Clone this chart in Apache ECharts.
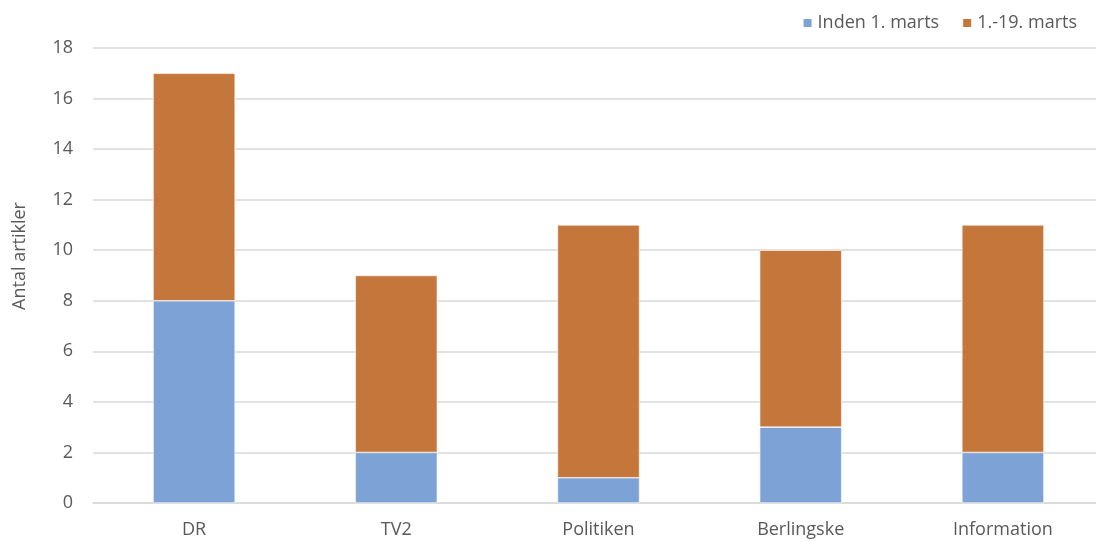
<!DOCTYPE html>
<html><head><meta charset="utf-8">
<script src="https://cdn.jsdelivr.net/npm/echarts@6/dist/echarts.min.js"></script>
<style>html,body{margin:0;padding:0;background:#fff}#c{width:1096px;height:542px}</style>
</head><body><div id="c"></div>
<script>
const categories = ['DR', 'TV2', 'Politiken', 'Berlingske', 'Information'];
const before = [8, 2, 1, 3, 2];
const during = [9, 7, 10, 7, 9];
const seriesNames = ['Inden 1. marts', '1.-19. marts'];
const yTicks = { min: 0, max: 18, interval: 2 };
const yTitle = 'Antal artikler';

const chart = echarts.init(document.getElementById('c'));
const font = '"Open Sans", "Noto Sans", sans-serif';
chart.setOption({
  animation: false,
  textStyle: { fontFamily: font },
  legend: {
    top: 9, right: 14, itemWidth: 10, itemHeight: 10, itemGap: 22,
    icon: 'rect',
    textStyle: { color: '#595959', fontSize: 18, fontFamily: font },
    data: seriesNames
  },
  graphic: [{
    type: 'text', x: 20, y: 256, rotation: Math.PI / 2,
    style: { text: yTitle, fill: '#595959', fontSize: 18, fontFamily: font,
             align: 'center', verticalAlign: 'middle' }
  }],
  grid: { left: 93, right: -8, top: 48, bottom: 39, containLabel: false, outerBoundsMode: 'none' },
  xAxis: {
    type: 'category', data: categories,
    axisLine: { show: true, lineStyle: { color: '#d9d9d9', width: 1.5 } },
    axisTick: { show: false },
    axisLabel: { color: '#595959', fontSize: 18, margin: 18, fontFamily: font }
  },
  yAxis: {
    type: 'value', min: yTicks.min, max: yTicks.max, interval: yTicks.interval,
    axisLine: { show: false }, axisTick: { show: false },
    axisLabel: { color: '#595959', fontSize: 18, margin: 20, fontFamily: font },
    splitLine: { lineStyle: { color: '#d9d9d9', width: 1.5 } }
  },
  series: [
    { name: seriesNames[0], type: 'bar', stack: 'a', data: before, barWidth: '40.6%',
      itemStyle: { color: '#7DA3D6', borderColor: '#ffffff', borderWidth: 0.6 } },
    { name: seriesNames[1], type: 'bar', stack: 'a', data: during, barWidth: '40.6%',
      itemStyle: { color: '#C5763A', borderColor: '#ffffff', borderWidth: 0.6 } }
  ]
});
</script></body></html>
